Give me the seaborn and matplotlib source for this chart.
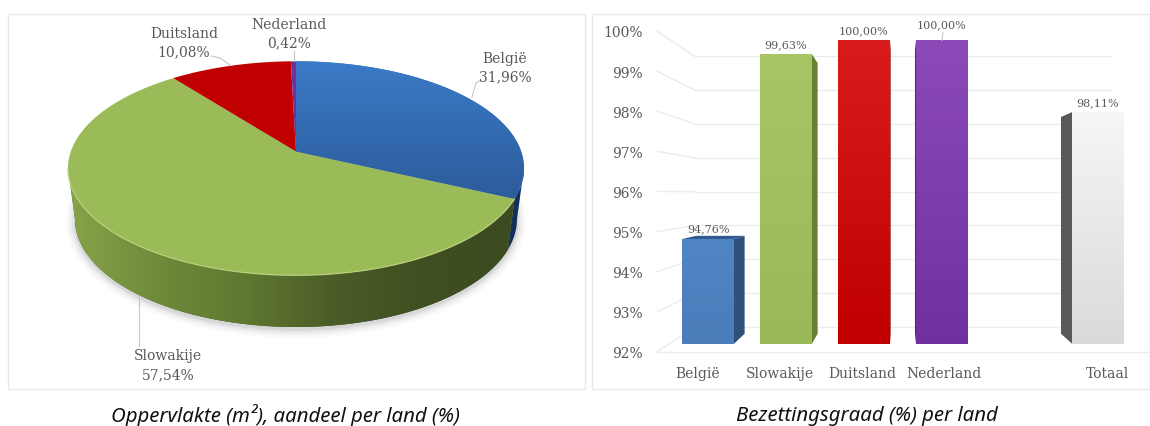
import numpy as np
import pandas as pd
import matplotlib
matplotlib.use("Agg")
import matplotlib.pyplot as plt
from matplotlib.colors import LinearSegmentedColormap as LSC
from matplotlib.lines import Line2D
from matplotlib.patches import Polygon, Rectangle
import seaborn as sns

# ---------- data ----------
pie_countries = ["België", "Slowakije", "Duitsland", "Nederland"]
pie_shares = [31.96, 57.54, 10.08, 0.42]
pie_labels = ["31,96%", "57,54%", "10,08%", "0,42%"]
bar_slots = ["België", "Slowakije", "Duitsland", "Nederland", " ", "Totaal"]
bar_countries = ["België", "Slowakije", "Duitsland", "Nederland", "Totaal"]
bar_values = [94.76, 99.63, 100.00, 100.00, 98.11]
bar_labels = ["94,76%", "99,63%", "100,00%", "100,00%", "98,11%"]
y_ticks = [92, 93, 94, 95, 96, 97, 98, 99, 100]
caption_left = "Oppervlakte (m²), aandeel per land (%)"
caption_right = "Bezettingsgraad (%) per land"

# ---------- styles ----------
W, H = 1150, 427
TXT = "#595959"
GRID = "#ececec"
SERIF = "DejaVu Serif"
sns.set_theme(style="white")
plt.rcParams["font.family"] = [SERIF]
fig = plt.figure(figsize=(W / 100, H / 100), dpi=100, facecolor="white")


def px_axes(x0, y0, x1, y1, **kw):
    """Axes from image pixel box (y downward)."""
    ax = fig.add_axes([x0 / W, 1 - y1 / H, (x1 - x0) / W, (y1 - y0) / H], **kw)
    ax.patch.set_alpha(0)
    return ax


for (x0, x1) in [(7.5, 585), (591.5, 1149.5)]:
    fig.add_artist(Rectangle((x0 / W, 1 - 390 / H), (x1 - x0) / W, 375 / H, transform=fig.transFigure,
                             fc="white", ec="#e8e8e8", lw=1, zorder=-5))

# ---------- pie (left) ----------
ax = px_axes(0, 0, 585, 427, zorder=1)
ax.set_xlim(0, 585)
ax.set_ylim(427, 0)
ax.axis("off")
CX, CY, RX, RY = 296, 169.3, 228, 107
BCY, BRX, BRY = 220, 221, 108
TILT = 0.157  # moves the pie apex up from the ellipse centre


def project(theta):
    """Clockwise angle from the top on the pie -> (u, v) on the unit ellipse."""
    u, v = np.sin(theta), np.cos(theta)
    d = 1 + TILT * v
    return u * np.sqrt(1 - TILT ** 2) / d, (v + TILT) / d


def top_xy(u, v):
    return CX + RX * u, CY - RY * v


def phi_of(theta):
    u, v = project(theta)
    return np.mod(np.arctan2(u, v), 2 * np.pi)


def gradient(a, colors, extent, clip, vertical=True, z=2):
    t = np.linspace(0, 1, 128)
    arr = t[:, None] if vertical else t[None, :]
    im = a.imshow(arr, cmap=LSC.from_list("g", colors), extent=extent, aspect="auto",
                  origin="upper", interpolation="bilinear", zorder=z)
    if clip is not None:
        im.set_clip_path(clip)
    return im


# soft shadow below the rim
tt = np.linspace(0, 2 * np.pi, 240)
for k, al in zip([9, 6, 3.5, 1.5], [0.03, 0.05, 0.07, 0.10]):
    ax.fill(CX + (BRX + k) * np.sin(tt), BCY + 2 + (BRY + k) * np.cos(tt), color="#555555", alpha=al, lw=0, zorder=1)

edges = np.r_[0, np.cumsum(pie_shares)] / sum(pie_shares) * 2 * np.pi
pie_top = {"België": None, "Slowakije": "#9bbb59", "Duitsland": "#c00000", "Nederland": "#7030a0"}
rim = {"België": ["#12305c", "#0e2443"],
       "Slowakije": ["#3c4b20", "#3f4f21", "#4a5c27", "#5f7730", "#6f8a3a", "#86a348"]}

# rim first (visible part is the lower half of the ellipse)
for name, a0, a1 in zip(pie_countries, edges[:-1], edges[1:]):
    p0, p1 = phi_of(a0) if a0 > 0 else 0.0, phi_of(a1) if a1 < edges[-1] else 2 * np.pi
    lo, hi = max(p0, np.pi / 2), min(p1, 3 * np.pi / 2)
    if hi <= lo or name not in rim:
        continue
    ph = np.linspace(lo, hi, 200)
    xs = np.r_[CX + RX * np.sin(ph), (CX + BRX * np.sin(ph))[::-1]]
    ys = np.r_[CY - RY * np.cos(ph), (BCY - BRY * np.cos(ph))[::-1]]
    poly = Polygon(np.c_[xs, ys], closed=True, fc=rim[name][0], ec="none", zorder=2)
    ax.add_patch(poly)
    if name == "Slowakije":
        gradient(ax, rim[name], (xs.max(), xs.min(), ys.max(), ys.min()), poly, vertical=False, z=2.1)

# top surface, driven by the shares
for name, a0, a1 in zip(pie_countries, edges[:-1], edges[1:]):
    th = np.linspace(a0, a1, 240)
    ex, ey = top_xy(*project(th))
    ax_x, ax_y = CX, CY - RY * TILT
    xy = np.c_[np.r_[ax_x, ex], np.r_[ax_y, ey]]
    poly = Polygon(xy, closed=True, fc=pie_top[name] or "#3a78c4", ec="none", zorder=3)
    ax.add_patch(poly)
    if pie_top[name] is None:
        gradient(ax, ["#3b7ac8", "#2c5c9a"], (xy[:, 0].min(), xy[:, 0].max(), xy[:, 1].max(), xy[:, 1].min()), poly, z=3.1)

# bright edge of the green slice
ph = np.linspace(phi_of(edges[1]), 3 * np.pi / 2, 200)
ax.plot(CX + RX * np.sin(ph), CY - RY * np.cos(ph), color="#b9d07c", lw=0.9, zorder=4)

# labels and leader lines
pie_pos = {"België": (505, 59, 77), "Slowakije": (168, 356, 375),
           "Duitsland": (184, 34, 52), "Nederland": (289, 25, 43)}
leaders = {"België": [(472, 98), (476, 84), (481, 81)], "Slowakije": [(139.5, 297), (139.5, 347)],
           "Duitsland": [(211, 57), (220, 59), (230, 66)], "Nederland": [(294, 52), (294, 62)]}
for name, lab in zip(pie_countries, pie_labels):
    x, y1, y2 = pie_pos[name]
    ax.text(x, y1, name, ha="center", va="center", fontsize=10, color=TXT, zorder=6)
    ax.text(x, y2, lab, ha="center", va="center", fontsize=10, color=TXT, zorder=6)
    lx, ly = zip(*leaders[name])
    ax.plot(lx, ly, color="#c6c6c6", lw=0.8, zorder=5)
ax.set_xlim(0, 585)
ax.set_ylim(427, 0)

# ---------- 3-D bar chart (right) ----------
# front plane: tick labels and floor edge
front = px_axes(657, 32, 1149, 353, zorder=1)
front.set_xlim(-0.5, 5.5)
front.set_ylim(92, 100)
sns.despine(ax=front, left=True, top=True, right=True)
front.spines["bottom"].set_color(GRID)
front.spines["bottom"].set_linewidth(1)
front.set_yticks(y_ticks)
front.set_yticklabels([f"{v}%" for v in y_ticks], fontsize=10, color=TXT)
xpos = [bar_slots.index(c) for c in bar_countries]
front.set_xticks(xpos)
front.set_xticklabels(bar_countries, fontsize=10, color=TXT)
front.tick_params(axis="x", length=0, pad=10)
front.tick_params(axis="y", length=0, pad=10)

# back wall: gridlines
back = px_axes(695, 57.3, 1112, 328, zorder=1)
back.set_xlim(-0.5, 5.5)
back.set_ylim(92, 100)
back.set_xticks([])
back.set_yticks(y_ticks)
back.set_yticklabels([])
back.tick_params(length=0)
back.grid(axis="y", color=GRID, lw=1, clip_on=False)
sns.despine(ax=back, left=True, top=True, right=True, bottom=True)

# left wall: connect each tick on the front plane to the back wall
to_fig = fig.transFigure.inverted()
for v in y_ticks:
    pa = to_fig.transform(front.transData.transform((-0.5, v)))
    pb = to_fig.transform(back.transData.transform((-0.5, v)))
    fig.add_artist(Line2D([pa[0], pb[0]], [pa[1], pb[1]], color=GRID, lw=1, transform=fig.transFigure, zorder=-1))

# bars
bx = px_axes(591, 15, 1150, 344.7, zorder=3)
df = pd.DataFrame({"land": bar_countries, "waarde": bar_values})
palette = dict(zip(bar_countries, ["#4f81bd", "#9dbb59", "#c00000", "#7030a0", "#e4e4e4"]))
sns.barplot(data=df, x="land", y="waarde", hue="land", order=bar_slots, hue_order=bar_countries,
            palette=palette, saturation=1, width=2 / 3, legend=False, ax=bx, zorder=3, linewidth=0)
xl = ((591 - 708) / 78, (1150 - 708) / 78)
yl = (92, 92 + 329.7 / 37.9)
bx.set_xlim(*xl)
bx.set_ylim(*yl)
bx.axis("off")

grads = {"België": ["#5085c3", "#4a7dba"], "Slowakije": ["#a8c565", "#9bb958"], "Duitsland": ["#d81b1b", "#c00000"],
         "Nederland": ["#8c4ab9", "#7030a0"], "Totaal": ["#f6f6f6", "#dadada"]}
sides = {"België": "#2f5079", "Slowakije": "#6a7f34", "Duitsland": "#8c0000", "Nederland": "#4f2278", "Totaal": "#595959"}
tops = {"België": "#2f5b92"}
label_off = {"België": 10.5, "Slowakije": 10.3, "Duitsland": 10, "Nederland": 16.7, "Totaal": 10}
VP = np.array([900.0, H - 189.0])  # vanishing point, display px
DEPTH = 0.936
inv = bx.transData.inverted()


def rear(x, y):
    d = bx.transData.transform((x, y))
    return inv.transform(VP + DEPTH * (d - VP))


for p in list(bx.patches):
    if not np.isfinite(p.get_height()) or p.get_height() == 0:
        continue
    xc = p.get_x() + p.get_width() / 2
    name = bar_slots[int(round(xc))]
    val = bar_values[bar_countries.index(name)]
    x0, x1 = p.get_x(), p.get_x() + p.get_width()
    edge = x1 if bx.transData.transform((x1, val))[0] < VP[0] else x0
    side = [(edge, 92), (edge, val), tuple(rear(edge, val)), tuple(rear(edge, 92))]
    bx.add_patch(Polygon(side, closed=True, fc=sides[name], ec="none", zorder=2, clip_on=False))
    if rear(x0, val)[1] > val:
        bx.add_patch(Polygon([(x0, val), (x1, val), tuple(rear(x1, val)), tuple(rear(x0, val))],
                             closed=True, fc=tops[name], ec="none", zorder=2, clip_on=False))
    t = np.linspace(0, 1, 64)[:, None]
    bx.imshow(t, cmap=LSC.from_list("b", grads[name]), extent=(x0, x1, 92, val), origin="upper",
              aspect="auto", interpolation="bilinear", zorder=4)
    bx.annotate(bar_labels[bar_countries.index(name)], (xc, val), xytext=(0, label_off[name] * 0.72),
                textcoords="offset points", ha="center", va="center", fontsize=8, color=TXT,
                annotation_clip=False, zorder=6)
bx.set_xlim(*xl)
bx.set_ylim(*yl)

# leader for the Nederland label
ned = bar_slots.index("Nederland")
top_disp = bx.transData.transform((ned, 100))
pa = to_fig.transform(top_disp)
pb = to_fig.transform(top_disp + [1, 8])
fig.add_artist(Line2D([pa[0], pb[0]], [pa[1], pb[1]], color="#c6c6c6", lw=0.8, transform=fig.transFigure, zorder=5))

# ---------- captions ----------
fig.text(285 / W, 1 - 416 / H, caption_left, ha="center", va="center", fontsize=14.7,
         style="italic", family="Noto Sans", color="#111111")
fig.text(867 / W, 1 - 416 / H, caption_right, ha="center", va="center", fontsize=14.7,
         style="italic", family="Noto Sans", color="#111111")

fig.savefig("out.png", dpi=100, facecolor="white")
